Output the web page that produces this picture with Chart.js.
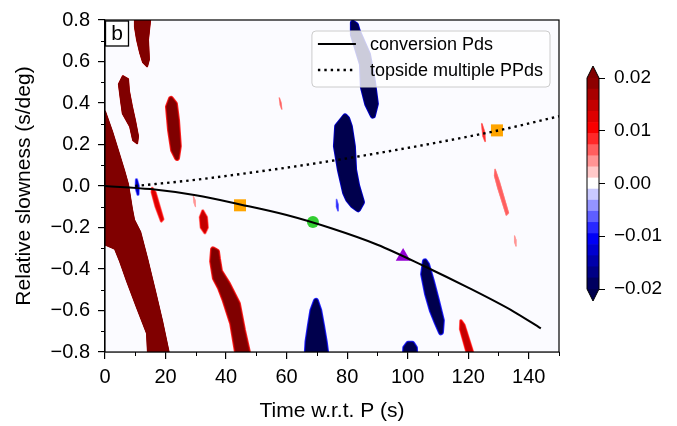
<!DOCTYPE html>
<html>
<head>
<meta charset="utf-8">
<script src="https://cdn.jsdelivr.net/npm/chart.js@4"></script>
<style>
  html, body { margin: 0; padding: 0; background: #fff; }
  #wrap { position: relative; width: 677px; height: 426px; }
  #main, #cbar { position: absolute; top: 0; }
  #main { left: 0; }
  #cbar { left: 560px; }
</style>
</head>
<body>
<div id="wrap">
  <canvas id="main" width="677" height="426"></canvas>
  <canvas id="cbar" width="117" height="426"></canvas>
</div>
<script>
// ---- axes ----
const xMajor = [0, 20, 40, 60, 80, 100, 120, 140];
const xMinor = [10, 30, 50, 70, 90, 110, 130, 150];
const yMajor = [-0.8, -0.6, -0.4, -0.2, 0, 0.2, 0.4, 0.6, 0.8];
const yMinor = [-0.7, -0.5, -0.3, -0.1, 0.1, 0.3, 0.5, 0.7];
const cbTicks = [-0.02, -0.01, 0, 0.01, 0.02];
const cbBands = 19;

// ---- predicted moveouts ----
const pdsTime = [0, 15, 30, 45, 60, 75, 90, 105, 120, 135, 144];
const pdsSlow = [0, -0.015, -0.045, -0.09, -0.14, -0.205, -0.283, -0.383, -0.49, -0.605, -0.686];
const ppdsTime = [10, 30, 50, 70, 90, 110, 130, 150];
const ppdsSlow = [0.0, 0.03, 0.068, 0.11, 0.158, 0.21, 0.268, 0.336];

// ---- picked phases ----
const squareTime = [44.6, 129.5];
const squareSlow = [-0.093, 0.268];
const circleTime = [68.7];
const circleSlow = [-0.173];
const triTime = [98.5];
const triSlow = [-0.34];

// ---- stack amplitude patches (outline in time / slowness, peak amplitude) ----
const blobAmp = [0.06, 0.05, 0.05, 0.03, -0.04, -0.04, -0.03, 0.028, -0.03, -0.03,
                 0.006, 0.012, 0.014, 0.005, -0.014, -0.008, 0.008, 0.007, 0.005, 0.015];
const blobTime = [
  [-1, 0, 2.3, 4.3, 6.3, 7.6, 8.9, 9.6, 11.6, 13.9, 16.5, 18.8, 21.0, 21.4, 14.4, 14.2, 13.9, 10.6, 7.3, 5.0, 3.3, 0.3, -1],
  [9.9, 9.9, 10.6, 11.6, 12.6, 13.9, 14.5, 14.2, 14.9, 14.9],
  [5.9, 4.6, 5.3, 5.9, 8.3, 9.3, 10.6, 10.9, 9.9, 8.9, 7.9, 7.6],
  [21.8, 20.8, 21.5, 22.5, 23.8, 24.4, 23.8, 23.1],
  [81.9, 81.9, 84.9, 85.2, 86.6, 88.5, 89.5, 88.5, 86.9, 83.6, 82.9],
  [79.3, 76.7, 76.3, 77.6, 79.3, 80.3, 81.9, 83.6, 84.9, 83.3, 82.3, 81.9, 80.9, 80.0],
  [105.7, 105.1, 106.4, 108.0, 109.7, 111.0, 111.3, 109.7, 108.0, 106.4],
  [35.7, 35.4, 36.3, 38.0, 39.6, 42.0, 43.6, 43.9, 48.0, 47.2, 45.6, 43.9, 40.6, 38.0, 37.3, 37.0],
  [69.7, 68.5, 67.7, 66.9, 66.5, 73.5, 72.6, 71.7, 70.8],
  [99.0, 99.2, 100.2, 101.5, 102.4, 102.6],
  [57.6, 58.2, 58.4, 57.9],
  [15.6, 16.6, 19.2, 18.6, 16.8, 15.5],
  [32.3, 33.5, 33.8, 33.0, 31.8, 31.5],
  [29.2, 29.8, 29.9, 29.4],
  [10.4, 11.0, 10.9, 10.3],
  [76.5, 77.0, 77.0, 76.5],
  [124.5, 125.4, 125.6, 124.9],
  [128.9, 130.3, 133.3, 132.6, 129.8, 128.7],
  [135.3, 135.8, 135.8, 135.3],
  [117.6, 118.6, 121.4, 119.8, 117.5]
];
const blobSlow = [
  [0.37, 0.358, 0.263, 0.169, 0.074, 0.007, -0.112, -0.164, -0.221, -0.349, -0.506, -0.648, -0.8, -0.85, -0.85, -0.8, -0.71, -0.586, -0.458, -0.363, -0.302, -0.283, -0.283],
  [0.85, 0.767, 0.705, 0.643, 0.596, 0.577, 0.61, 0.705, 0.8, 0.85],
  [0.529, 0.491, 0.411, 0.349, 0.287, 0.221, 0.206, 0.240, 0.316, 0.382, 0.458, 0.515],
  [0.420, 0.382, 0.268, 0.173, 0.135, 0.192, 0.316, 0.396],
  [0.786, 0.729, 0.586, 0.477, 0.396, 0.339, 0.396, 0.506, 0.634, 0.743, 0.776],
  [0.335, 0.287, 0.192, 0.078, -0.031, -0.064, -0.093, -0.112, -0.078, 0.002, 0.078, 0.192, 0.287, 0.325],
  [-0.363, -0.425, -0.520, -0.601, -0.662, -0.705, -0.648, -0.553, -0.458, -0.378],
  [-0.306, -0.363, -0.444, -0.491, -0.553, -0.662, -0.8, -0.85, -0.85, -0.8, -0.696, -0.567, -0.472, -0.411, -0.349, -0.316],
  [-0.553, -0.6, -0.672, -0.75, -0.85, -0.85, -0.75, -0.672, -0.6],
  [-0.85, -0.78, -0.76, -0.76, -0.78, -0.85],
  [0.425, 0.40, 0.37, 0.39],
  [-0.01, -0.03, -0.16, -0.17, -0.1, -0.03],
  [-0.12, -0.15, -0.2, -0.225, -0.2, -0.15],
  [-0.05, -0.07, -0.1, -0.08],
  [0.03, 0.0, -0.04, -0.01],
  [-0.065, -0.09, -0.12, -0.1],
  [0.30, 0.26, 0.215, 0.24],
  [0.08, 0.02, -0.13, -0.14, -0.01, 0.05],
  [-0.24, -0.26, -0.29, -0.27],
  [-0.65, -0.67, -0.80, -0.81, -0.69]
];

const FONT = "'Liberation Sans', Arial, sans-serif";
const fmt = (v, d) => (v < -1e-9 ? '\u2212' : '') + Math.abs(v).toFixed(d);

// seismic colormap
const seismicStops = [[0, [0, 0, 76.5]], [0.25, [0, 0, 255]], [0.5, [255, 255, 255]], [0.75, [255, 0, 0]], [1, [127.5, 0, 0]]];
function seismic(t) {
    t = Math.max(0, Math.min(1, t));
    for (let i = 1; i < seismicStops.length; i++) {
        if (t <= seismicStops[i][0]) {
            const [t0, c0] = seismicStops[i - 1];
            const [t1, c1] = seismicStops[i];
            const f = (t - t0) / (t1 - t0);
            return 'rgb(' + c0.map((c, j) => Math.round(c + (c1[j] - c) * f)).join(',') + ')';
        }
    }
}
function bandColor(v) {
    const t = (v + 0.02) / 0.04;
    if (t >= 1) return seismic(1);
    if (t < 0) return seismic(0);
    const band = Math.min(cbBands - 1, Math.floor(t * cbBands));
    return seismic((band + 0.5) / cbBands);
}

const pts = (xs, ys) => xs.map((t, i) => ({x: t, y: ys[i]}));

const stackPlot = {
    id: 'stackPlot',
    beforeDatasetsDraw(chart) {
        const {ctx, chartArea: ca, scales: {x, y}} = chart;
        ctx.save();
        ctx.fillStyle = 'rgb(251,251,255)';
        ctx.fillRect(ca.left, ca.top, ca.width, ca.height);
        ctx.beginPath();
        ctx.rect(ca.left, ca.top, ca.width, ca.height);
        ctx.clip();
        ctx.lineJoin = 'round';
        blobAmp.forEach((amp, i) => {
            const path = new Path2D();
            blobTime[i].forEach((t, k) => {
                const px = x.getPixelForValue(t);
                const py = y.getPixelForValue(blobSlow[i][k]);
                if (k) path.lineTo(px, py); else path.moveTo(px, py);
            });
            path.closePath();
            // edge width: saturated patches are sharp, weak ones thin
            const a = Math.abs(amp);
            const soft = a >= 0.045 ? 0.35 : Math.min(1, a / 0.025);
            [[0.3, 6], [0.5, 4.4], [0.7, 3], [0.88, 1.6]].forEach(([f, w]) => {
                ctx.strokeStyle = bandColor(amp * f);
                ctx.lineWidth = w * soft;
                ctx.stroke(path);
            });
            ctx.fillStyle = bandColor(amp);
            ctx.fill(path);
        });
        ctx.restore();
    },
    afterDatasetsDraw(chart) {
        const {ctx, chartArea: ca, scales: {x, y}} = chart;
        ctx.save();
        // minor ticks
        ctx.strokeStyle = '#000';
        ctx.lineWidth = 1;
        ctx.beginPath();
        xMinor.forEach(v => {
            const px = Math.round(x.getPixelForValue(v)) + 0.5;
            ctx.moveTo(px, ca.bottom);
            ctx.lineTo(px, ca.bottom + 4);
        });
        yMinor.forEach(v => {
            const py = Math.round(y.getPixelForValue(v)) + 0.5;
            ctx.moveTo(ca.left - 4, py);
            ctx.lineTo(ca.left, py);
        });
        ctx.stroke();

        // frame
        ctx.lineWidth = 1.2;
        ctx.strokeRect(ca.left, ca.top, ca.width, ca.height);

        // legend
        const ds = chart.data.datasets;
        ctx.font = '18px ' + FONT;
        const labels = [ds[0].label, ds[1].label];
        const w = Math.max(...labels.map(l => ctx.measureText(l).width));
        const pad = 6, handle = 38, gap = 14;
        const boxW = pad + handle + gap + w + 7, boxH = 56;
        const right = ca.right - 9, top = ca.top + 11, left = right - boxW;
        ctx.beginPath();
        ctx.roundRect(left, top, boxW, boxH, 4);
        ctx.fillStyle = 'rgba(255,255,255,0.8)';
        ctx.fill();
        ctx.strokeStyle = '#cccccc';
        ctx.lineWidth = 1;
        ctx.stroke();
        labels.forEach((l, i) => {
            const ly = top + 13 + i * 26;
            ctx.beginPath();
            ctx.strokeStyle = '#000';
            ctx.lineWidth = ds[i].borderWidth;
            ctx.setLineDash(ds[i].borderDash || []);
            ctx.moveTo(left + pad, ly);
            ctx.lineTo(left + pad + handle, ly);
            ctx.stroke();
            ctx.setLineDash([]);
            ctx.fillStyle = '#000';
            ctx.textBaseline = 'middle';
            ctx.textAlign = 'left';
            ctx.fillText(l, left + pad + handle + gap, ly + 1);
        });

        // panel label
        ctx.fillStyle = '#fff';
        ctx.fillRect(ca.left + 0.5, ca.top + 1, 23, 25);
        ctx.strokeStyle = '#000';
        ctx.lineWidth = 1.3;
        ctx.strokeRect(ca.left + 0.5, ca.top + 1, 23, 25);
        ctx.fillStyle = '#000';
        ctx.font = '21px ' + FONT;
        ctx.textAlign = 'center';
        ctx.textBaseline = 'middle';
        ctx.fillText('b', ca.left + 12, ca.top + 14);
        ctx.restore();
    }
};

new Chart(document.getElementById('main'), {
    type: 'scatter',
    data: {
        datasets: [{
            type: 'line',
            label: 'conversion Pds',
            data: pts(pdsTime, pdsSlow),
            borderColor: '#000',
            borderWidth: 2,
            pointRadius: 0,
            cubicInterpolationMode: 'monotone',
            fill: false
        }, {
            type: 'line',
            label: 'topside multiple PPds',
            data: pts(ppdsTime, ppdsSlow),
            borderColor: '#000',
            borderWidth: 2.4,
            borderDash: [2.4, 4],
            pointRadius: 0,
            cubicInterpolationMode: 'monotone',
            fill: false
        }, {
            label: 'square',
            data: pts(squareTime, squareSlow),
            pointStyle: 'rect',
            pointRadius: 8.5,
            backgroundColor: '#ffa500',
            borderWidth: 0
        }, {
            label: 'circle',
            data: pts(circleTime, circleSlow),
            pointStyle: 'circle',
            pointRadius: 6,
            backgroundColor: '#32cd32',
            borderWidth: 0
        }, {
            label: 'triangle',
            data: pts(triTime, triSlow),
            pointStyle: 'triangle',
            pointRadius: 8.5,
            backgroundColor: '#9400d3',
            borderWidth: 0
        }]
    },
    options: {
        responsive: false,
        animation: false,
        events: [],
        layout: {padding: {left: 0, top: 15, right: 118, bottom: 0}},
        plugins: {legend: {display: false}, tooltip: {enabled: false}},
        scales: {
            x: {
                type: 'linear', min: 0, max: 150,
                afterBuildTicks: s => { s.ticks = xMajor.map(v => ({value: v})); },
                afterFit: s => { s.height = 74; },
                ticks: {color: '#000', font: {family: FONT, size: 20}, padding: 6, maxRotation: 0},
                grid: {drawOnChartArea: false, color: '#000', tickLength: 7, lineWidth: 1.2},
                border: {color: '#000', width: 1.2},
                title: {display: true, text: 'Time w.r.t. P (s)', color: '#000',
                        font: {family: FONT, size: 21}, padding: {top: 0, bottom: 2}}
            },
            y: {
                type: 'linear', min: -0.8, max: 0.8,
                afterBuildTicks: s => { s.ticks = yMajor.map(v => ({value: v})); },
                afterFit: s => { s.width = 105; },
                ticks: {color: '#000', font: {family: FONT, size: 20}, padding: 8,
                        callback: v => fmt(v, 1)},
                grid: {drawOnChartArea: false, color: '#000', tickLength: 7, lineWidth: 1.2},
                border: {color: '#000', width: 1.2},
                title: {display: true, text: 'Relative slowness (s/deg)', color: '#000',
                        font: {family: FONT, size: 21}, padding: {top: 12, bottom: 0}}
            }
        }
    },
    plugins: [stackPlot]
});

// ---- colorbar ----
const cbLevels = Array.from({length: cbBands + 1}, (_, i) => -0.02 + 0.04 * i / cbBands);

const cbOutline = {
    id: 'cbOutline',
    afterDatasetsDraw(chart) {
        const {ctx, chartArea: ca} = chart;
        const mid = (ca.left + ca.right) / 2, ext = 12;
        ctx.save();
        ctx.fillStyle = seismic(1);
        ctx.beginPath();
        ctx.moveTo(ca.left, ca.top); ctx.lineTo(mid, ca.top - ext); ctx.lineTo(ca.right, ca.top);
        ctx.closePath(); ctx.fill();
        ctx.fillStyle = seismic(0);
        ctx.beginPath();
        ctx.moveTo(ca.left, ca.bottom); ctx.lineTo(mid, ca.bottom + ext); ctx.lineTo(ca.right, ca.bottom);
        ctx.closePath(); ctx.fill();
        ctx.strokeStyle = '#000';
        ctx.lineWidth = 1;
        ctx.beginPath();
        ctx.moveTo(ca.left, ca.top); ctx.lineTo(mid, ca.top - ext); ctx.lineTo(ca.right, ca.top);
        ctx.lineTo(ca.right, ca.bottom); ctx.lineTo(mid, ca.bottom + ext); ctx.lineTo(ca.left, ca.bottom);
        ctx.closePath(); ctx.stroke();
        ctx.restore();
    }
};

new Chart(document.getElementById('cbar'), {
    type: 'bar',
    data: {
        labels: [''],
        datasets: cbLevels.slice(0, -1).map((lo, i) => ({
            data: [[lo, cbLevels[i + 1]]],
            backgroundColor: seismic((i + 0.5) / cbBands),
            borderWidth: 0,
            barPercentage: 1,
            categoryPercentage: 1,
            grouped: false
        }))
    },
    options: {
        responsive: false,
        animation: false,
        events: [],
        layout: {padding: {left: 27, top: 78, right: 0, bottom: 137}},
        plugins: {legend: {display: false}, tooltip: {enabled: false}},
        scales: {
            x: {display: false},
            y: {
                position: 'right', min: -0.02, max: 0.02,
                afterBuildTicks: s => { s.ticks = cbTicks.map(v => ({value: v})); },
                afterFit: s => { s.width = 78; },
                ticks: {color: '#000', font: {family: FONT, size: 19}, padding: 9,
                        callback: v => fmt(v, 2)},
                grid: {drawOnChartArea: false, color: '#000', tickLength: 6, lineWidth: 1},
                border: {display: false}
            }
        }
    },
    plugins: [cbOutline]
});
</script>
</body>
</html>
